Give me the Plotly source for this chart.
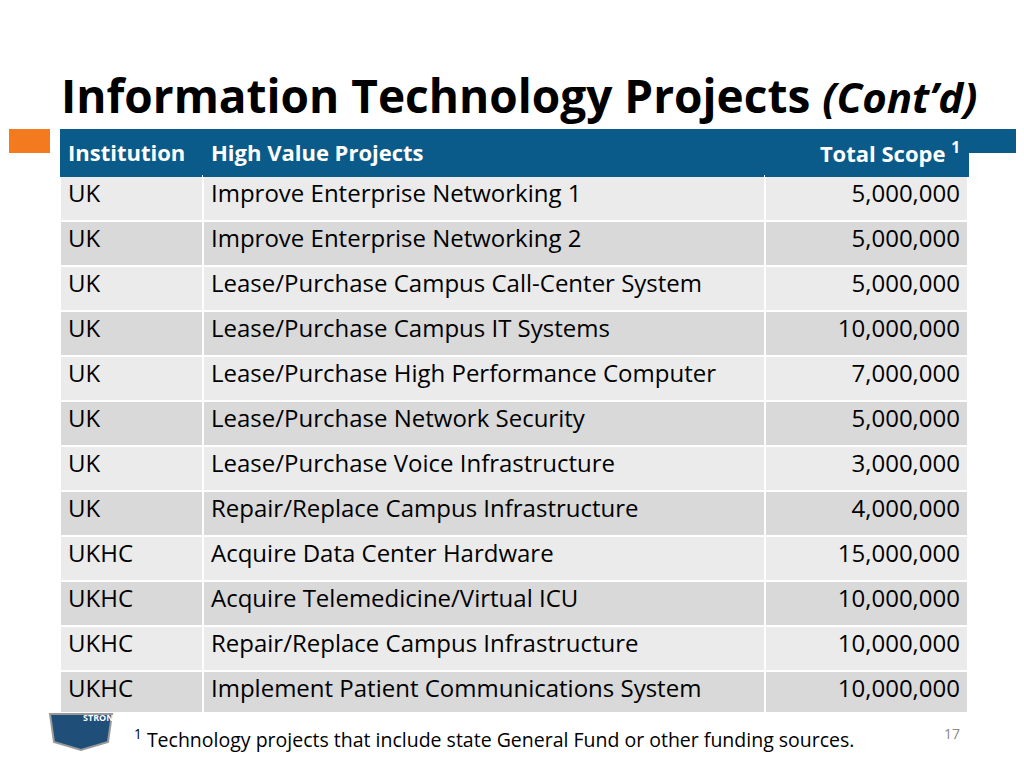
import plotly.graph_objects as go

institutions = ["UK"]*8 + ["UKHC"]*4
projects = ["Improve Enterprise Networking 1", "Improve Enterprise Networking 2",
            "Lease/Purchase Campus Call-Center System", "Lease/Purchase Campus IT Systems",
            "Lease/Purchase High Performance Computer", "Lease/Purchase Network Security",
            "Lease/Purchase Voice Infrastructure", "Repair/Replace Campus Infrastructure",
            "Acquire Data Center Hardware", "Acquire Telemedicine/Virtual ICU",
            "Repair/Replace Campus Infrastructure", "Implement Patient Communications System"]
scope = [5000000, 5000000, 5000000, 10000000, 7000000, 5000000, 3000000, 4000000,
         15000000, 10000000, 10000000, 10000000]
headers = ["Institution", "High Value Projects", "Total Scope <sup>1</sup>"]

W, H = 1024, 768
O = 8  # page offset compensation
def px(x): return (x - O) / W
def py(y): return 1 - (y - O) / H

fills = ["#EBEBEB" if i % 2 == 0 else "#D9D9D9" for i in range(len(projects))]
font = "Open Sans"

fig = go.Figure(go.Table(
    domain=dict(x=[px(60), px(968)], y=[py(712), py(129)]),
    columnwidth=[143, 562, 203],
    header=dict(values=[f"<b>{h}</b>" for h in headers],
                fill_color="#0B5B8A", line_color="#0B5B8A", height=43,
                align=["left", "left", "right"],
                font=dict(family=font, size=22, color="white")),
    cells=dict(values=[institutions, projects, [f"{v:,}" for v in scope]],
               fill_color=[fills]*3, line=dict(color="white", width=2), height=45,
               align=["left", "left", "right"],
               font=dict(family=font, size=24, color="black")),
))

fig.add_shape(type="rect", xref="paper", yref="paper", x0=px(9), x1=px(50), y0=py(153), y1=py(129),
              fillcolor="#F47A20", line_width=0)
fig.add_shape(type="rect", xref="paper", yref="paper", x0=px(968), x1=px(1016), y0=py(153), y1=py(129),
              fillcolor="#0B5B8A", line_width=0)
fig.add_annotation(xref="paper", yref="paper", x=px(59), y=py(95), xanchor="left", yanchor="middle",
                   showarrow=False,
                   text="<b>Information Technology Projects</b> <b><i><span style='font-size:42px'>(Cont’d)</span></i></b>",
                   font=dict(family=font, size=46, color="black"))
fig.add_annotation(xref="paper", yref="paper", x=px(132), y=py(738), xanchor="left", yanchor="middle",
                   showarrow=False, text="<sup>1</sup> Technology projects that include state General Fund or other funding sources.",
                   font=dict(family=font, size=19.5, color="black"))
fig.add_annotation(xref="paper", yref="paper", x=px(962), y=py(733), xanchor="right", yanchor="middle",
                   showarrow=False, text="17", font=dict(family=font, size=14, color="#888888"))
fig.add_shape(type="path", xref="paper", yref="paper",
              path=f"M {px(50)} {py(714)} L {px(112)} {py(714)} L {px(108)} {py(742)} L {px(81)} {py(750)} L {px(54)} {py(742)} Z",
              fillcolor="#1F4E79", line=dict(color="#999999", width=2))
fig.add_annotation(xref="paper", yref="paper", x=px(81), y=py(726), showarrow=False, text="<b>STRONGER</b>",
                   font=dict(family=font, size=9, color="white"))

fig.update_layout(width=W, height=H, margin=dict(l=0, r=0, t=0, b=0),
                  paper_bgcolor="white", plot_bgcolor="white")
fig.write_html("out.html")
